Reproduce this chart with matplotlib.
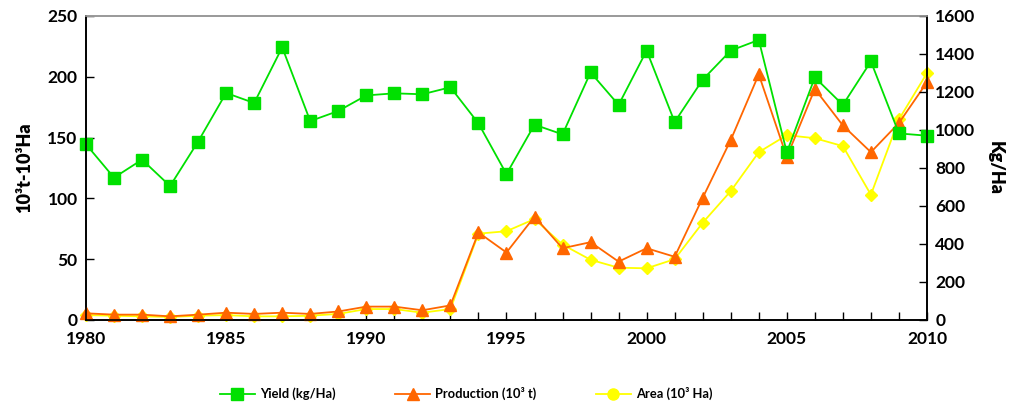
import matplotlib
matplotlib.use("Agg")
import matplotlib.pyplot as plt
from matplotlib.lines import Line2D
from matplotlib.ticker import MultipleLocator

plt.rcParams['font.family'] = ['Lato', 'DejaVu Sans']
plt.rcParams['font.weight'] = 'bold'

years = list(range(1980, 2011))

# Yield in kg/Ha (right axis)
yield_kg_ha = [925, 749, 844, 705, 939, 1195, 1142, 1435, 1047, 1100,
               1182, 1193, 1188, 1225, 1035, 768, 1028, 977, 1303, 1132,
               1418, 1042, 1265, 1418, 1474, 882, 1277, 1132, 1361, 982, 970]

# Production in 10^3 t (left axis)
production = [5.5, 4.4, 4.4, 3.0, 4.4, 6.0, 5.0, 6.0, 5.0, 7.0,
              11.0, 11.0, 8.0, 12.0, 72.0, 55.5, 85.0, 59.0, 64.0, 48.0,
              59.0, 52.0, 100.5, 148.0, 202.0, 134.0, 190.0, 160.0, 138.0, 162.0, 195.5]

# Harvested area in 10^3 Ha (left axis)
area = [4.0, 3.5, 3.0, 2.5, 3.5, 4.0, 3.0, 3.0, 3.5, 5.0,
        9.0, 9.0, 6.0, 9.0, 71.0, 73.0, 83.0, 62.0, 49.5, 43.0,
        42.5, 50.0, 80.0, 106.0, 138.0, 152.0, 149.5, 143.0, 103.0, 165.0, 203.0]

green = '#00E000'
orange = '#FF6600'
yellow = '#FFFF00'

fig = plt.figure(figsize=(10.09, 4.05), dpi=100)
ax = fig.add_axes([0.0852, 0.2099, 0.8335, 0.7506])
ax2 = ax.twinx()

ax.plot(years, area, color=yellow, marker='D', markersize=6.5, linewidth=1.3, zorder=2,
        clip_on=False)
ax.plot(years, production, color=orange, marker='^', markersize=8.5, linewidth=1.3, zorder=3,
        clip_on=False)
ax2.plot(years, yield_kg_ha, color=green, marker='s', markersize=8, linewidth=1.3,
         clip_on=False)

ax.set_xlim(1980, 2010)
ax.set_ylim(0, 250)
ax2.set_ylim(0, 1600)
ax.xaxis.set_major_locator(MultipleLocator(5))
ax.xaxis.set_minor_locator(MultipleLocator(1))
ax.yaxis.set_major_locator(MultipleLocator(50))
ax2.yaxis.set_major_locator(MultipleLocator(200))

for a in (ax, ax2):
    a.tick_params(axis='both', which='both', direction='in', labelsize=12.5)
    a.tick_params(which='major', length=6, width=1)
    a.tick_params(which='minor', length=6, width=1)
    for s in a.spines.values():
        s.set_linewidth(1.2)
    a.spines['top'].set_color('#999999')
ax.tick_params(axis='x', pad=8)
ax.tick_params(axis='y', pad=6)
ax2.tick_params(axis='y', pad=6)

ax.set_ylabel('10³t-10³Ha', fontsize=13, fontweight='heavy', labelpad=10)
ax2.set_ylabel('Kg/Ha', fontsize=13, fontweight='heavy', rotation=-90, labelpad=20)

handles = [
    Line2D([], [], color=green, marker='s', markersize=8, linewidth=1.3),
    Line2D([], [], color=orange, marker='^', markersize=8.5, linewidth=1.3),
    Line2D([], [], color=yellow, marker='o', markersize=8, linewidth=1.3),
]
labels = ['Yield (kg/Ha)', 'Production (10³ t)', 'Area (10³ Ha)']
fig.legend(handles, labels, loc='center', bbox_to_anchor=(0.462, 0.028), ncol=3,
           frameon=False, fontsize=9.3, columnspacing=4.6, handlelength=2.7,
           handletextpad=0.4)

fig.savefig('out.png', dpi=100)
